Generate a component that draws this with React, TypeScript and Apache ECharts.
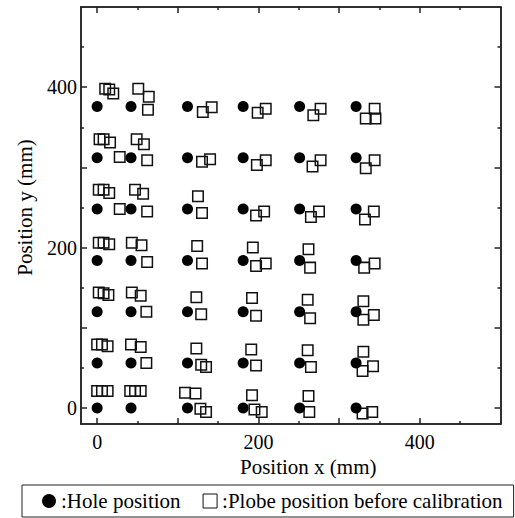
import React, { useEffect, useRef } from "react";
import * as echarts from "echarts";

// Hole positions (mm): grid of columns x rows
const holeXs = [0, 42, 112, 181, 251, 321];
const holeYs = [0, 56, 120, 184, 248, 312, 376];

// Probe positions before calibration (mm)
const probeX = [
  // row 0
  0, 6, 13, 41, 47, 54, 109, 122, 128, 135, 192, 195, 204, 262, 263, 329, 341,
  // row 56
  0, 6, 13, 42, 54, 61, 123, 129, 135, 191, 197, 261, 265, 330, 342, 329,
  // row 120
  2, 8, 14, 43, 54, 61, 123, 129, 192, 197, 261, 264, 330, 343, 330,
  // row 184
  2, 8, 15, 43, 55, 62, 124, 130, 193, 197, 209, 262, 264, 331, 344,
  // row 248
  2, 8, 15, 28, 47, 57, 62, 125, 130, 197, 207, 265, 275, 332, 343,
  // row 312
  3, 8, 16, 28, 49, 58, 62, 130, 140, 198, 209, 267, 277, 333, 344,
  // row 376
  10, 15, 20, 51, 64, 63, 131, 142, 199, 209, 268, 277, 333, 345, 344,
];
const probeY = [
  21, 21, 21, 21, 21, 21, 19, 18, -1, -5, 16, -2, -5, 15, -5, -7, -5,
  79, 79, 77, 79, 76, 56, 74, 54, 51, 73, 53, 72, 51, 70, 52, 46,
  144, 143, 141, 144, 140, 120, 138, 117, 137, 115, 135, 112, 133, 116, 110,
  206, 206, 204, 206, 203, 182, 202, 180, 200, 177, 180, 198, 175, 175, 180,
  272, 272, 268, 248, 272, 267, 245, 264, 243, 240, 245, 238, 245, 235, 245,
  335, 335, 331, 313, 335, 329, 309, 307, 310, 303, 309, 301, 309, 299, 309,
  398, 397, 392, 398, 388, 372, 369, 375, 368, 373, 365, 373, 361, 361, 373,
];

const majorTicks = [0, 100, 200, 300, 400];
const minorTicks = [50, 150, 250, 350, 450];
const tickLabels = [0, 200, 400];

const FONT = "Liberation Serif";
const AXIS_COLOR = "#222";

export default function App() {
  const ref = useRef<HTMLDivElement>(null);

  useEffect(() => {
    if (!ref.current) return;
    const chart = echarts.init(ref.current, null, { renderer: "svg" });

    const holes: number[][] = [];
    holeYs.forEach((y) => holeXs.forEach((x) => holes.push([x, y])));
    const probes = probeX.map((x, i) => [x, probeY[i]]);

    const makeAxis = (
      position: string,
      ticks: number[],
      len: number,
      showLabel: boolean,
      extra: any = {}
    ) => ({
      type: "value",
      position,
      min: -20,
      max: 500,
      axisLine: {
        show: true,
        onZero: false,
        lineStyle: { color: AXIS_COLOR, width: 1.5 },
      },
      axisTick: {
        show: true,
        inside: true,
        length: len,
        customValues: ticks,
        lineStyle: { color: AXIS_COLOR, width: 1.5 },
      },
      axisLabel: showLabel
        ? {
            show: true,
            customValues: tickLabels,
            fontFamily: FONT,
            fontSize: 20,
            color: "#000",
          }
        : { show: false },
      splitLine: { show: false },
      ...extra,
    });

    chart.setOption({
      animation: false,
      textStyle: { fontFamily: FONT },
      grid: { left: 81, right: 14.5, top: 7, bottom: 94 },
      xAxis: [
        makeAxis("bottom", majorTicks, 6, true, {
          name: "Position x (mm)",
          nameLocation: "middle",
          nameGap: 30,
          nameTextStyle: {
            fontFamily: FONT,
            fontSize: 21,
            color: "#000",
            padding: [0, 0, 0, 35],
          },
        }),
        makeAxis("bottom", minorTicks, 3, false),
        makeAxis("top", majorTicks, 6, false),
        makeAxis("top", minorTicks, 3, false),
      ],
      yAxis: [
        makeAxis("left", majorTicks, 6, true, {
          name: "Position y (mm)",
          nameLocation: "middle",
          nameGap: 46,
          nameTextStyle: {
            fontFamily: FONT,
            fontSize: 21,
            color: "#000",
            padding: [0, 0, 0, 16],
          },
          axisLabel: {
            show: true,
            customValues: tickLabels,
            fontFamily: FONT,
            fontSize: 20,
            color: "#000",
            margin: 4,
          },
        }),
        makeAxis("left", minorTicks, 3, false),
        makeAxis("right", majorTicks, 6, false),
        makeAxis("right", minorTicks, 3, false),
      ],
      legend: {
        left: 22,
        top: 485,
        padding: [5, 11, 5, 20],
        itemGap: 22,
        itemWidth: 14,
        itemHeight: 14,
        borderColor: "#222",
        borderWidth: 1,
        borderRadius: 0,
        formatter: (name: string) => ":" + name,
        textStyle: { fontFamily: FONT, fontSize: 21, color: "#000", lineHeight: 22 },
        data: [
          { name: "Hole position", icon: "circle" },
          {
            name: "Plobe position before calibration",
            icon: "rect",
            itemStyle: { color: "rgba(0,0,0,0)", borderColor: "#111", borderWidth: 1 },
          },
        ],
      },
      series: [
        {
          name: "Hole position",
          type: "scatter",
          xAxisIndex: 0,
          yAxisIndex: 0,
          symbol: "circle",
          symbolSize: 11,
          itemStyle: { color: "#000", opacity: 1 },
          data: holes,
          z: 3,
        },
        {
          name: "Plobe position before calibration",
          type: "scatter",
          xAxisIndex: 0,
          yAxisIndex: 0,
          symbol: "rect",
          symbolSize: 10.5,
          itemStyle: {
            color: "rgba(0,0,0,0)",
            borderColor: "#111",
            borderWidth: 1.5,
            opacity: 1,
          },
          data: probes,
          z: 2,
        },
      ],
    });

    return () => chart.dispose();
  }, []);

  return (
    <div
      ref={ref}
      style={{ position: "absolute", left: 0, top: 0, width: 515, height: 518 }}
    />
  );
}
